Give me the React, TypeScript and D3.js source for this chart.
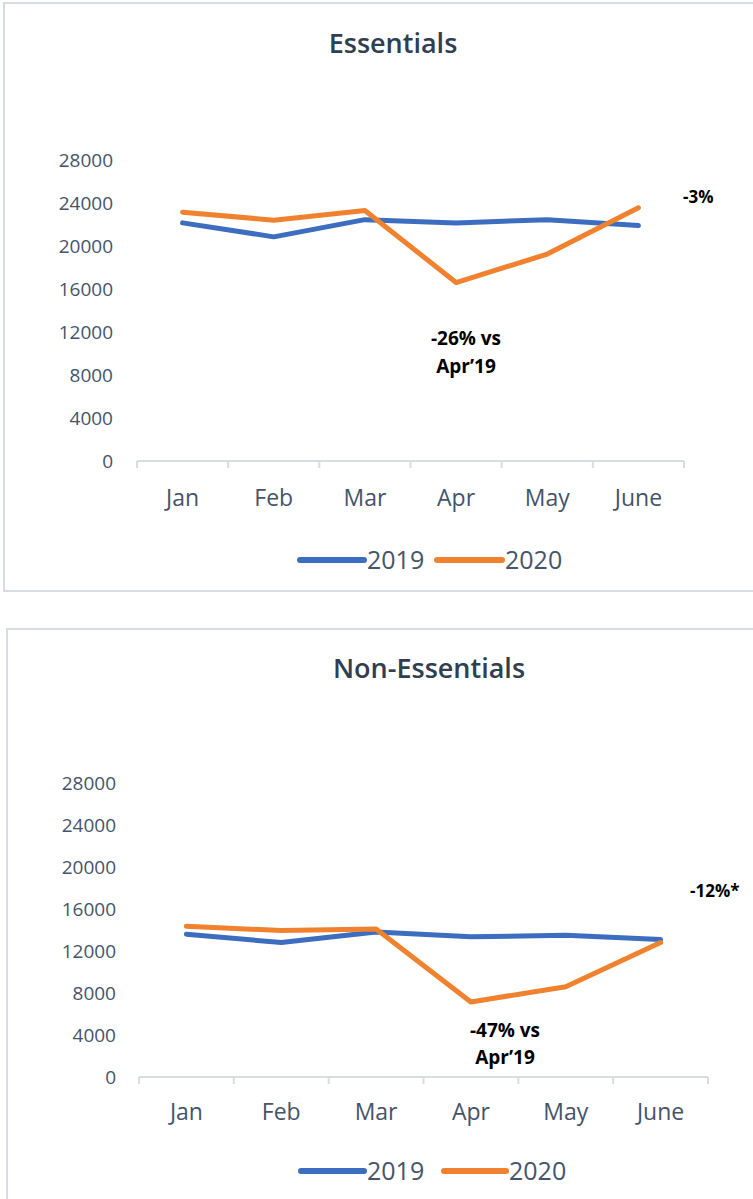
import React from "react";
import * as d3 from "d3";

const months = ["Jan", "Feb", "Mar", "Apr", "May", "June"];
const yTicks = [0, 4000, 8000, 12000, 16000, 20000, 24000, 28000];
const seriesNames = ["2019", "2020"];
const essentials2019 = [22150, 20850, 22450, 22150, 22450, 21900];
const essentials2020 = [23150, 22400, 23300, 16600, 19250, 23550];
const nonEss2019 = [13600, 12800, 13800, 13350, 13500, 13100];
const nonEss2020 = [14350, 13950, 14100, 7150, 8600, 12800];

const BLUE = "#3D6DBF";
const ORANGE = "#F0822F";
const COLORS = [BLUE, ORANGE];
const FONT = "'Open Sans', Lato, sans-serif";
const AXIS_TEXT = "#44546A";

type PanelProps = {
  top: number;
  boxX: number;
  boxY: number;
  boxH: number;
  title: string;
  titleX: number;
  titleY: number;
  xRange: [number, number];
  yRange: [number, number];
  yLabelX: number;
  xLabelY: number;
  data: number[][];
  legendY: number;
  legend: { lineX: [number, number]; textX: number }[];
  ann1: { x: number; y1: number; y2: number; l1: string; l2: string };
  ann2: { x: number; y: number; text: string };
};

function Panel(p: PanelProps) {
  const x = d3.scaleBand<string>().domain(months).range(p.xRange);
  const y = d3.scaleLinear().domain([0, 28000]).range(p.yRange);
  const line = d3
    .line<number>()
    .x((_, i) => (x(months[i]) as number) + x.bandwidth() / 2)
    .y((d) => y(d));
  const boundaries = d3.range(months.length + 1).map((i) => p.xRange[0] + i * x.step());
  const y0 = y(0);
  return (
    <g>
      <rect x={p.boxX} y={p.boxY} width={800} height={p.boxH} fill="#fff" stroke="#D5DCE4" strokeWidth={2} />
      <text x={p.titleX} y={p.titleY} textAnchor="middle" fontFamily={FONT} fontWeight={600} fontSize={27} fill="#2F3E51">
        {p.title}
      </text>
      {yTicks.map((t) => (
        <text key={t} x={p.yLabelX} y={y(t)} dy="0.35em" textAnchor="end" fontFamily={FONT} fontSize={19} fill={AXIS_TEXT}>
          {t}
        </text>
      ))}
      <line x1={p.xRange[0]} x2={p.xRange[1]} y1={y0} y2={y0} stroke="#D9DDE3" strokeWidth={2} />
      {boundaries.map((bx, i) => (
        <line key={i} x1={bx} x2={bx} y1={y0} y2={y0 + 7} stroke="#D9DDE3" strokeWidth={2} />
      ))}
      {months.map((m) => (
        <text key={m} x={(x(m) as number) + x.bandwidth() / 2} y={p.xLabelY} textAnchor="middle" fontFamily={FONT} fontSize={23} fill={AXIS_TEXT}>
          {m}
        </text>
      ))}
      {p.data.map((s, i) => (
        <path key={i} d={line(s) as string} fill="none" stroke={COLORS[i]} strokeWidth={5} strokeLinejoin="round" strokeLinecap="round" />
      ))}
      <text x={p.ann1.x} y={p.ann1.y1} textAnchor="middle" fontFamily={FONT} fontWeight={700} fontSize={19} fill="#000">
        {p.ann1.l1}
      </text>
      <text x={p.ann1.x} y={p.ann1.y2} textAnchor="middle" fontFamily={FONT} fontWeight={700} fontSize={19} fill="#000">
        {p.ann1.l2}
      </text>
      <text x={p.ann2.x} y={p.ann2.y} textAnchor="start" fontFamily={FONT} fontWeight={700} fontSize={17} fill="#000">
        {p.ann2.text}
      </text>
      {seriesNames.map((n, i) => (
        <g key={n}>
          <line x1={p.legend[i].lineX[0]} x2={p.legend[i].lineX[1]} y1={p.legendY} y2={p.legendY} stroke={COLORS[i]} strokeWidth={6} strokeLinecap="round" />
          <text x={p.legend[i].textX} y={p.legendY} dy="0.35em" fontFamily={FONT} fontSize={25} fill={AXIS_TEXT}>
            {n}
          </text>
        </g>
      ))}
    </g>
  );
}

export default function App() {
  return (
    <svg width={753} height={1199} style={{ position: "absolute", left: 0, top: 0, background: "#fff" }}>
      <rect x={0} y={0} width={753} height={1199} fill="#fff" />
      <Panel
        top={0}
        boxX={4}
        boxY={3}
        boxH={588}
        title="Essentials"
        titleX={393}
        titleY={53}
        xRange={[137, 684]}
        yRange={[461, 160]}
        yLabelX={113}
        xLabelY={506}
        data={[essentials2019, essentials2020]}
        legendY={560}
        legend={[
          { lineX: [300, 364], textX: 367 },
          { lineX: [437, 502], textX: 505 },
        ]}
        ann1={{ x: 466, y1: 345, y2: 373, l1: "-26% vs", l2: "Apr\u201919" }}
        ann2={{ x: 683, y: 203, text: "-3%" }}
        data-x=""
      />
      <Panel
        top={626}
        boxX={7}
        boxY={629}
        boxH={620}
        title="Non-Essentials"
        titleX={429}
        titleY={678}
        xRange={[139, 708]}
        yRange={[1077, 783]}
        yLabelX={116}
        xLabelY={1120}
        data={[nonEss2019, nonEss2020]}
        legendY={1171}
        legend={[
          { lineX: [301, 364], textX: 367 },
          { lineX: [444, 506], textX: 509 },
        ]}
        ann1={{ x: 505, y1: 1037, y2: 1064, l1: "-47% vs", l2: "Apr\u201919" }}
        ann2={{ x: 690, y: 897, text: "-12%*" }}
      />
    </svg>
  );
}
